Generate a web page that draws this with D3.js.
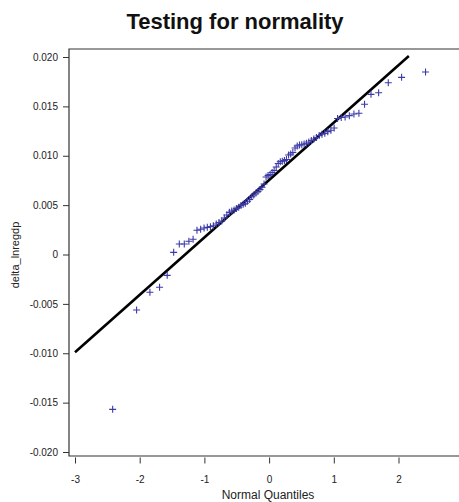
<!DOCTYPE html>
<html>
<head>
<meta charset="utf-8">
<script src="https://cdn.jsdelivr.net/npm/d3@7"></script>
<style>
  body { margin: 0; background: #fff; }
  text { font-family: "Liberation Sans", Arial, sans-serif; }
</style>
</head>
<body>
<div id="chart"></div>
<script>
// normal quantiles (x) and sorted delta_lnregdp values (y)
let quantiles = [
  -2.418, -2.048, -1.842, -1.693, -1.575, -1.475, -1.388, -1.311, -1.240, -1.175,
  -1.115, -1.058, -1.005, -0.955, -0.907, -0.861, -0.817, -0.774, -0.732, -0.692,
  -0.653, -0.614, -0.577, -0.541, -0.505, -0.470, -0.435, -0.401, -0.367, -0.334,
  -0.301, -0.269, -0.237, -0.204, -0.173, -0.141, -0.110, -0.078, -0.047, -0.016,
  0.016, 0.047, 0.078, 0.110, 0.141, 0.173, 0.204, 0.237, 0.269, 0.301,
  0.334, 0.367, 0.401, 0.435, 0.470, 0.505, 0.541, 0.577, 0.614, 0.653,
  0.692, 0.732, 0.774, 0.817, 0.861, 0.907, 0.955, 1.005, 1.058, 1.115,
  1.175, 1.240, 1.311, 1.388, 1.475, 1.575, 1.693, 1.842, 2.048, 2.418
];
let values = [
  -0.01568, -0.00562, -0.00383, -0.00332, -0.00211, 0.00022, 0.00106, 0.00106, 0.00134, 0.00154,
  0.00245, 0.00255, 0.00268, 0.00275, 0.00282, 0.00291, 0.00309, 0.00324, 0.00339, 0.00370,
  0.00400, 0.00427, 0.00441, 0.00451, 0.00466, 0.00479, 0.00496, 0.00508, 0.00519, 0.00539,
  0.00557, 0.00585, 0.00603, 0.00623, 0.00638, 0.00658, 0.00681, 0.00714, 0.00785, 0.00800,
  0.00810, 0.00830, 0.00851, 0.00886, 0.00922, 0.00940, 0.00944, 0.00952, 0.00962, 0.01008,
  0.01018, 0.01033, 0.01078, 0.01099, 0.01109, 0.01112, 0.01119, 0.01126, 0.01139, 0.01154,
  0.01170, 0.01185, 0.01205, 0.01217, 0.01227, 0.01244, 0.01258, 0.01281, 0.01377, 0.01387,
  0.01392, 0.01406, 0.01423, 0.01430, 0.01521, 0.01622, 0.01638, 0.01740, 0.01794, 0.01848
];
// reference line end points
let lineX = [-3, 2.16];
let lineY = [-0.0099, 0.0201];

let xTicks = [-3, -2, -1, 0, 1, 2];
let yTicks = [-0.020, -0.015, -0.010, -0.005, 0, 0.005, 0.010, 0.015, 0.020];

let width = 459, height = 502;
let frameLeft = 69, frameTop = 49, frameBottom = 456;

let svg = d3.select('#chart').append('svg')
  .attr('width', width)
  .attr('height', height);

let x = d3.scaleLinear().domain([-3, 2]).range([75, 398.5]);
let y = d3.scaleLinear().domain([-0.02, 0.02]).range([452, 57]);

// title
svg.append('text')
  .attr('x', 235)
  .attr('y', 29)
  .attr('text-anchor', 'middle')
  .style('font-size', '22px')
  .style('font-weight', 'bold')
  .attr('fill', '#111')
  .text('Testing for normality');

// frame (open on the right, runs off the page)
let frame = svg.append('g').attr('stroke', '#333').attr('stroke-width', 1.2).attr('fill', 'none');
frame.append('path')
  .attr('d', 'M' + width + ',' + frameTop + 'H' + frameLeft + 'V' + frameBottom + 'H' + width);

// axes
let yAxis = svg.append('g')
  .attr('transform', 'translate(' + frameLeft + ',0)')
  .call(d3.axisLeft(y).tickValues(yTicks).tickSize(6).tickPadding(5)
    .tickFormat(function(d) { return d === 0 ? '0' : d3.format('.3f')(d).replace('\u2212', '-'); }));

let xAxis = svg.append('g')
  .attr('transform', 'translate(0,' + (frameBottom + 1.5) + ')')
  .call(d3.axisBottom(x).tickValues(xTicks).tickSize(6).tickPadding(12)
    .tickFormat(function(d) { return String(d); }));

[xAxis, yAxis].forEach(function(g) {
  g.select('.domain').remove();
  g.selectAll('line').attr('stroke', '#333');
  g.selectAll('text').attr('fill', '#222').style('font-size', '10px')
    .style('font-family', '"Liberation Sans", Arial, sans-serif');
});

// axis titles
svg.append('text')
  .attr('x', 268)
  .attr('y', 499)
  .attr('text-anchor', 'middle')
  .style('font-size', '12px')
  .attr('fill', '#222')
  .text('Normal Quantiles');

svg.append('text')
  .attr('transform', 'translate(19,255) rotate(-90)')
  .attr('text-anchor', 'middle')
  .style('font-size', '11px')
  .attr('fill', '#222')
  .text('delta_lnregdp');

// reference line
svg.append('line')
  .attr('x1', x(lineX[0])).attr('y1', y(lineY[0]))
  .attr('x2', x(lineX[1])).attr('y2', y(lineY[1]))
  .attr('stroke', '#000')
  .attr('stroke-width', 2.6);

// points as plus markers
let pts = quantiles.map(function(q, i) { return [q, values[i]]; });
svg.append('g').selectAll('path')
  .data(pts)
  .enter()
  .append('path')
  .attr('d', function(d) {
    let cx = x(d[0]), cy = y(d[1]), r = 3.5;
    return 'M' + (cx - r) + ',' + cy + 'H' + (cx + r) + 'M' + cx + ',' + (cy - r) + 'V' + (cy + r);
  })
  .attr('stroke', '#3b3aa8')
  .attr('stroke-width', 1.1)
  .attr('fill', 'none');
</script>
</body>
</html>
